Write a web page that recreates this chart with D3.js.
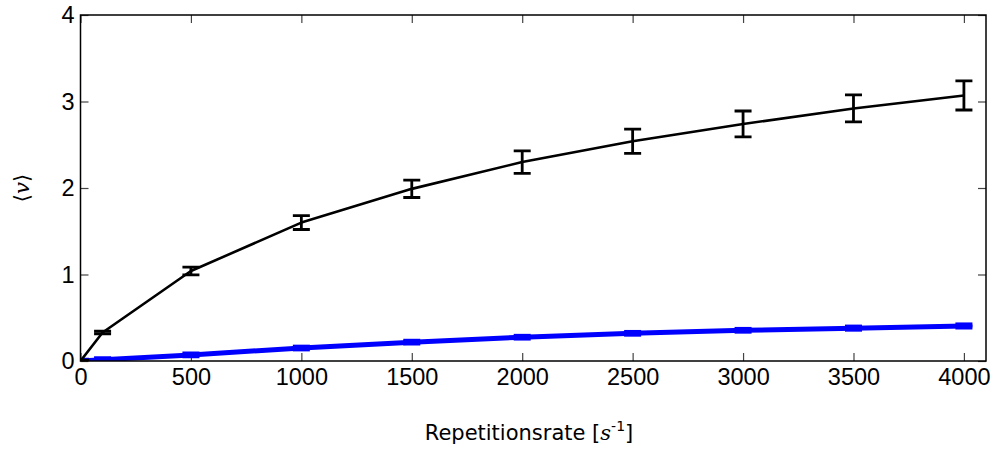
<!DOCTYPE html>
<html>
<head>
<meta charset="utf-8">
<script src="https://cdn.jsdelivr.net/npm/d3@7"></script>
<style>
  html, body { margin: 0; padding: 0; background: #fff; }
  svg { display: block; }
</style>
</head>
<body>
<div id="chart"></div>
<script>
// repetition rate [1/s]
var rates = [0, 100, 500, 1000, 1500, 2000, 2500, 3000, 3500, 4000];
// mean values <v>
var blackMean = [0, 0.33, 1.04, 1.6, 1.99, 2.3, 2.54, 2.74, 2.92, 3.07];
var blackErr  = [0.01, 0.015, 0.045, 0.08, 0.1, 0.13, 0.14, 0.15, 0.156, 0.168];
var blueMean  = [0, 0.015, 0.07, 0.15, 0.218, 0.275, 0.32, 0.355, 0.38, 0.405];
var blueErr   = [0.01, 0.01, 0.01, 0.01, 0.01, 0.01, 0.01, 0.01, 0.012, 0.012];
var xTicks = [0, 500, 1000, 1500, 2000, 2500, 3000, 3500, 4000];
var yTicks = [0, 1, 2, 3, 4];

var W = 995, H = 449;
var margin = { top: 15, right: 9, bottom: 88, left: 80.5 };
var w = W - margin.left - margin.right;
var h = H - margin.top - margin.bottom;

var svg = d3.select('#chart').append('svg').attr('width', W).attr('height', H);
var g = svg.append('g').attr('transform', 'translate(' + margin.left + ',' + margin.top + ')');

var x = d3.scaleLinear().domain([0, 4100]).range([0, w]);
var y = d3.scaleLinear().domain([0, 4]).range([h, 0]);

svg.append('defs').append('clipPath').attr('id', 'clip')
  .append('rect').attr('x', 0).attr('y', -2).attr('width', w).attr('height', h + 2);

// ticks (inside, on all four sides)
function styleAxis(sel) {
  sel.select('.domain').remove();
  sel.selectAll('.tick line').attr('stroke', '#444').attr('stroke-width', 1.2);
  sel.selectAll('text').attr('fill', '#000')
    .style('font-family', 'Liberation Sans, Arial, sans-serif').style('font-size', '23.5px');
}
g.append('g').attr('transform', 'translate(0,' + h + ')')
  .call(d3.axisBottom(x).tickValues(xTicks).tickSize(-8).tickPadding(7).tickFormat(d3.format('d')))
  .call(styleAxis);
g.append('g')
  .call(d3.axisTop(x).tickValues(xTicks).tickSize(-8).tickFormat(''))
  .call(styleAxis);
g.append('g')
  .call(d3.axisLeft(y).tickValues(yTicks).tickSize(-8).tickPadding(6).tickFormat(d3.format('d')))
  .call(styleAxis);
g.append('g').attr('transform', 'translate(' + w + ',0)')
  .call(d3.axisRight(y).tickValues(yTicks).tickSize(-8).tickFormat(''))
  .call(styleAxis);

var data = rates.map(function (r, i) {
  return { x: r, k: blackMean[i], ke: blackErr[i], b: blueMean[i], be: blueErr[i] };
});

var plot = g.append('g').attr('clip-path', 'url(#clip)');
var cap = 8.5;

function drawSeries(key, errKey, color, lw, ew) {
  plot.append('path').datum(data)
    .attr('fill', 'none').attr('stroke', color).attr('stroke-width', lw)
    .attr('stroke-linejoin', 'round')
    .attr('d', d3.line().x(function (d) { return x(d.x); }).y(function (d) { return y(d[key]); }));
  var eb = plot.selectAll('.eb-' + key).data(data).enter().append('g')
    .attr('stroke', color).attr('stroke-width', ew).attr('fill', 'none');
  eb.append('line')
    .attr('x1', function (d) { return x(d.x); }).attr('x2', function (d) { return x(d.x); })
    .attr('y1', function (d) { return y(d[key] - d[errKey]); })
    .attr('y2', function (d) { return y(d[key] + d[errKey]); });
  eb.append('line')
    .attr('x1', function (d) { return x(d.x) - cap; }).attr('x2', function (d) { return x(d.x) + cap; })
    .attr('y1', function (d) { return y(d[key] - d[errKey]); })
    .attr('y2', function (d) { return y(d[key] - d[errKey]); });
  eb.append('line')
    .attr('x1', function (d) { return x(d.x) - cap; }).attr('x2', function (d) { return x(d.x) + cap; })
    .attr('y1', function (d) { return y(d[key] + d[errKey]); })
    .attr('y2', function (d) { return y(d[key] + d[errKey]); });
}
drawSeries('b', 'be', '#0000ff', 5, 5);
drawSeries('k', 'ke', '#000000', 2.6, 2.8);

// frame
g.append('rect').attr('width', w).attr('height', h)
  .attr('fill', 'none').attr('stroke', '#000').attr('stroke-width', 1.5);

// axis labels
var xl = svg.append('text')
  .attr('x', 529).attr('y', 440)
  .attr('text-anchor', 'middle')
  .style('font-family', 'DejaVu Sans, sans-serif').style('font-size', '21px');
xl.append('tspan').text('Repetitionsrate [');
xl.append('tspan').style('font-family', 'DejaVu Serif, serif').style('font-style', 'italic').text('s');
xl.append('tspan').attr('dy', -9).style('font-size', '14px').text('-1');
xl.append('tspan').attr('dy', 9).text(']');

var yl = svg.append('text')
  .attr('transform', 'translate(29,' + (margin.top + h / 2) + ') rotate(-90)')
  .attr('text-anchor', 'middle')
  .style('font-family', 'DejaVu Serif, serif').style('font-size', '21px');
yl.append('tspan').text('\u27E8');
yl.append('tspan').style('font-style', 'italic').text('v');
yl.append('tspan').text('\u27E9');
</script>
</body>
</html>
